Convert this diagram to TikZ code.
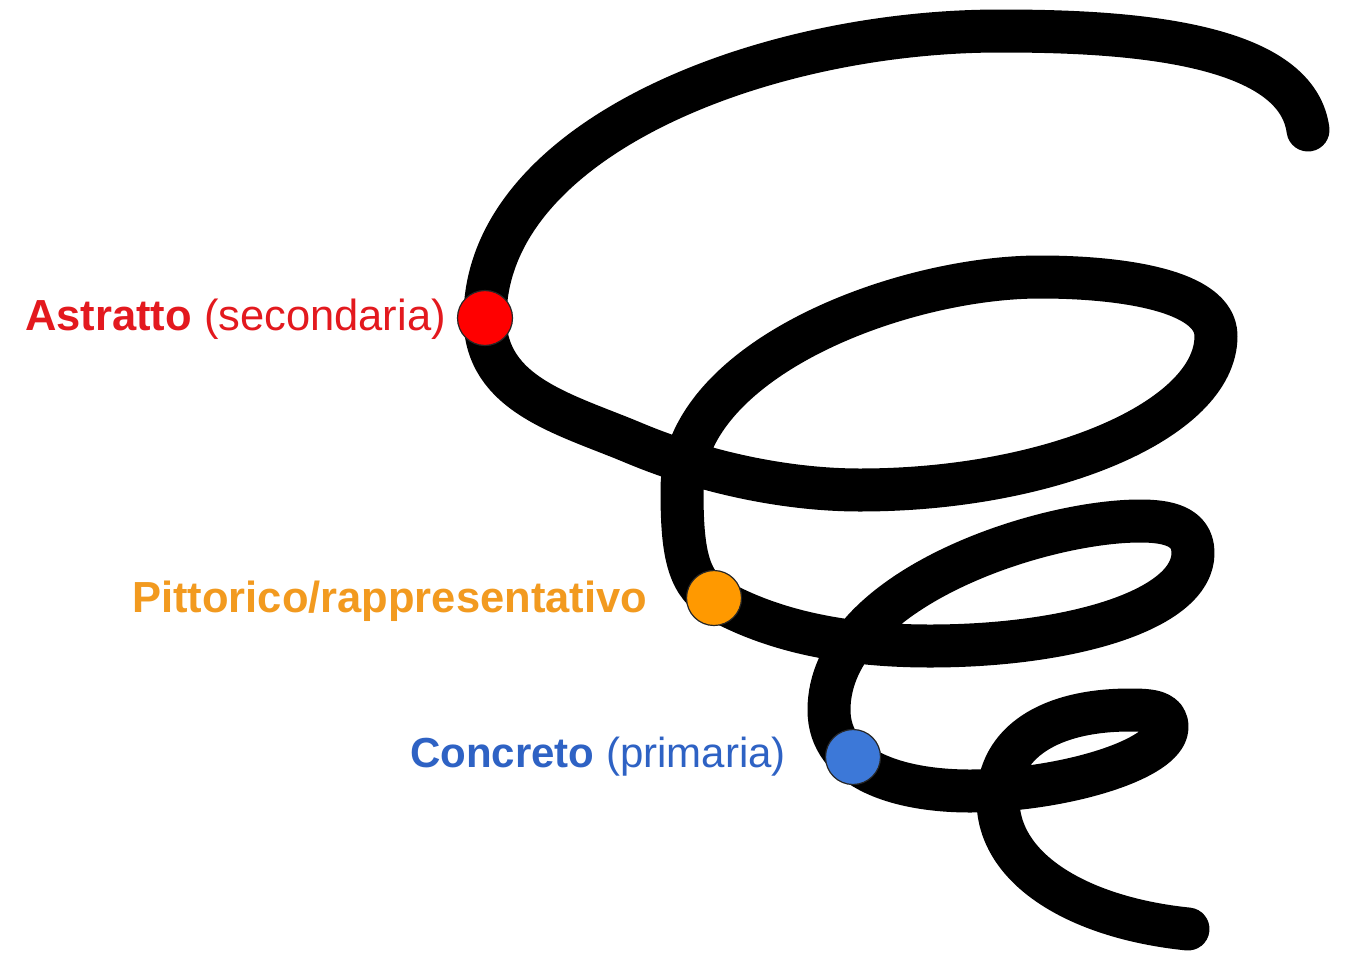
\documentclass[tikz,border=0pt]{standalone}
\usepackage{fontspec}
\setmainfont{Liberation Sans}
\definecolor{redtxt}{HTML}{E3191E}
\definecolor{orangetxt}{HTML}{F29A1F}
\definecolor{bluetxt}{HTML}{2E62C4}
\definecolor{reddot}{HTML}{FF0000}
\definecolor{orangedot}{HTML}{FF9900}
\definecolor{bluedot}{HTML}{3C78D8}
\tikzset{
  spiral/.style={line width=43pt, line cap=round, line join=round, black},
  stage/.style={circle, minimum size=55pt, inner sep=0pt, draw=black!85, line width=1.2pt},
  lbl/.style={anchor=base west, inner sep=0pt, font=\fontsize{43.5}{50}\selectfont}
}
\begin{document}
\begin{tikzpicture}[x=1pt,y=-1pt]
\useasboundingbox[fill=white] (0,0) rectangle (1353,956);
\draw[spiral] (1308,130)
  .. controls (1296,40) and (1120,31) .. (1000,31)
  .. controls (760,31) and (485,140) .. (485,318)
  .. controls (485,395) and (565,414) .. (634,443)
  .. controls (708,474) and (790,490) .. (860,490)
  .. controls (1050,490) and (1216,420) .. (1216,336)
  .. controls (1216,290) and (1120,277) .. (1040,277)
  .. controls (900,277) and (682,360) .. (682,490)
  .. controls (682,545) and (686,582) .. (714,598)
  .. controls (775,633) and (850,646) .. (930,646)
  .. controls (1070,646) and (1193,610) .. (1193,553)
  .. controls (1193,525) and (1165,521) .. (1140,521)
  .. controls (1040,521) and (829,590) .. (829,710)
  .. controls (829,770) and (900,791) .. (970,791)
  .. controls (1060,791) and (1167,760) .. (1167,727)
  .. controls (1167,711) and (1150,710) .. (1130,710)
  .. controls (1050,710) and (998,742) .. (998,800)
  .. controls (998,870) and (1080,918) .. (1188,929);
\node[stage, fill=reddot] (astr) at (485,318) {};
\node[stage, fill=orangedot] (pitt) at (714,598) {};
\node[stage, fill=bluedot] (conc) at (853,757) {};
\node[lbl, text=redtxt] (lastr) at (25,330) {\textbf{Astratto} (secondaria)};
\node[lbl, text=orangetxt] (lpitt) at (132,612) {\textbf{Pittorico/rappresentativo}};
\node[lbl, text=bluetxt, font=\fontsize{42}{48}\selectfont] (lconc) at (410,767) {\textbf{Concreto} (primaria)};
\end{tikzpicture}
\end{document}
